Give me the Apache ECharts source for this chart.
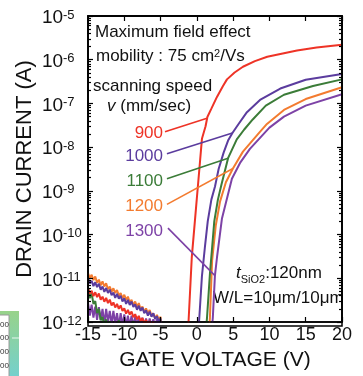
<!DOCTYPE html>
<html><head><meta charset="utf-8">
<script src="https://cdn.jsdelivr.net/npm/echarts@6/dist/echarts.min.js"></script>
<style>html,body{margin:0;padding:0;background:#fff}#c{width:363px;height:376px}</style>
</head><body><div id="c"></div>
<script>
// ---- data (gate voltage V, drain current A) ----
const xTickValues = [-15, -10, -5, 0, 5, 10, 15, 20];
const yDecades = [-12, -11, -10, -9, -8, -7, -6, -5];
const speeds = ['900', '1000', '1100', '1200', '1300'];

const offV = [-15,-14.75,-14.5,-14.25,-14,-13.75,-13.5,-13.25,-13,-12.75,-12.5,-12.25,-12,-11.75,-11.5,-11.25,-11,-10.75,-10.5,-10.25,-10,-9.75,-9.5,-9.25,-9,-8.75,-8.5,-8.25,-8,-7.75,-7.5,-7.25,-7,-6.75,-6.5,-6.25,-6,-5.75,-5.5,-5.25,-5];

const offI900 = [5.9e-12,4.5e-12,5.2e-12,3.9e-12,4.8e-12,3.7e-12,4.5e-12,3.25e-12,3.8e-12,2.9e-12,3.55e-12,2.7e-12,3.25e-12,2.4e-12,2.8e-12,2.15e-12,2.6e-12,2.0e-12,2.4e-12,1.78e-12,2.05e-12,1.55e-12,1.9e-12,1.48e-12,1.74e-12,1.29e-12,1.51e-12,1.15e-12,1.38e-12,1.05e-12,1.23e-12,9.3e-13,1.12e-12,8e-13,1.05e-12,7e-13,1.02e-12,5e-13,9e-13,4e-13,3e-13];
const offI1000 = [1.0e-11,7.6e-12,8.8e-12,6.6e-12,8.1e-12,6.3e-12,7.5e-12,5.5e-12,6.5e-12,4.9e-12,6.0e-12,4.6e-12,5.5e-12,4.1e-12,4.7e-12,3.55e-12,4.4e-12,3.4e-12,4.0e-12,2.95e-12,3.5e-12,2.6e-12,3.2e-12,2.45e-12,2.95e-12,2.2e-12,2.55e-12,1.9e-12,2.35e-12,1.8e-12,2.15e-12,1.58e-12,1.86e-12,1.4e-12,1.72e-12,1.32e-12,1.58e-12,1.17e-12,1.36e-12,1.02e-12,1.2e-12];
const offI1100 = [6e-12,3.5e-12,4.5e-12,2.6e-12,3e-12,1.6e-12,2e-12,1.1e-12,1.3e-12,8e-13,1.15e-12,7e-13,1.05e-12,6e-13,8e-13,6e-13,7e-13,1.1e-12,6e-13,7e-13,6e-13,6e-13,7e-13,6e-13,6e-13,1.05e-12,6e-13,6e-13,7e-13,6e-13,6e-13,6e-13,1.02e-12,6e-13,6e-13,6e-13,6e-13,6e-13,6e-13,6e-13,5e-13];
const offI1200 = [1.32e-11,1.0e-11,1.2e-11,9.1e-12,1.1e-11,7.9e-12,9.3e-12,6.9e-12,8.5e-12,6.5e-12,7.7e-12,5.6e-12,6.5e-12,4.9e-12,5.9e-12,4.6e-12,5.4e-12,4.0e-12,4.6e-12,3.5e-12,4.2e-12,3.2e-12,3.8e-12,2.8e-12,3.2e-12,2.4e-12,2.95e-12,2.25e-12,2.7e-12,1.95e-12,2.26e-12,1.7e-12,2.05e-12,1.58e-12,1.87e-12,1.38e-12,1.58e-12,1.2e-12,1.45e-12,1.12e-12,1.32e-12];
const offI1300 = [2.8e-12,1.4e-12,2.5e-12,1.26e-12,2.25e-12,1.12e-12,2.2e-12,1.1e-12,2.0e-12,9e-13,2.0e-12,1e-12,1.8e-12,9e-13,1.8e-12,9e-13,1.6e-12,8e-13,1.6e-12,8e-13,1.5e-12,8e-13,1.4e-12,8e-13,1.4e-12,8e-13,1.3e-12,8e-13,1.3e-12,8e-13,1.25e-12,8e-13,1.2e-12,8e-13,1.2e-12,8e-13,1.15e-12,8e-13,1.15e-12,8e-13,1.1e-12];

const on900 = [[-4.9,1e-13],[-1.3,4e-13],[-1.15,1e-12],[-0.7,3.0e-11],[0.0,6.8e-10],[0.35,3.2e-9],[0.7,1.55e-8],[1.2,3.0e-8],[1.45,4.9e-8],[2.0,7.6e-8],[2.77,1.41e-7],[3.6,2.5e-7],[4.15,3.55e-7],[5.2,5.1e-7],[6.35,6.9e-7],[8,9.3e-7],[9.7,1.17e-6],[12,1.41e-6],[13.8,1.62e-6],[16.5,1.9e-6],[20,2.19e-6]];
const on1000 = [[-4.9,1e-13],[0.2,3e-13],[0.3,1e-12],[0.7,1.12e-11],[1.1,5e-11],[1.5,2e-10],[2.0,6.3e-10],[2.5,1.26e-9],[3.0,3.16e-9],[3.7,7.6e-9],[4.3,1.41e-8],[4.9,2.1e-8],[5.7,3.3e-8],[6.9,6.3e-8],[8.7,1.2e-7],[11.5,2.19e-7],[15,3.47e-7],[20,4.7e-7]];
const on1100 = [[-4.9,1e-13],[1.3,8e-13],[1.4,1.26e-12],[1.8,1.26e-11],[2.1,5e-11],[2.4,2e-10],[2.9,6.3e-10],[3.4,1.41e-9],[4.3,5.6e-9],[5.5,1.5e-8],[6.5,2.5e-8],[7.7,4.3e-8],[9.5,8.9e-8],[12,1.58e-7],[16,2.5e-7],[20,3.55e-7]];
const on1200 = [[-4.8,1e-13],[1.65,5e-13],[1.8,1.26e-12],[2.1,2.5e-11],[2.6,1.58e-10],[3.2,5.75e-10],[4.0,1.58e-9],[4.97,3.24e-9],[6.35,7.9e-9],[8.69,2.24e-8],[9.66,3.4e-8],[12,7.1e-8],[15,1.26e-7],[20,2.34e-7]];
const on1300 = [[-4.8,1e-13],[2.0,5e-13],[2.2,1.26e-12],[2.49,1.15e-11],[2.77,2.95e-11],[3.46,2.34e-10],[4.83,1.9e-9],[6,4.5e-9],[7.31,9.1e-9],[10,2.8e-8],[12,5e-8],[15,8.9e-8],[20,1.62e-7]];

// leader lines from the speed labels to the curves (data coordinates)
const leader900 = [[-4.39, 2.24e-8], [1.4, 4.6e-8]];
const leader1000 = [[-4.12, 7.1e-9], [4.9, 2.1e-8]];
const leader1100 = [[-4.12, 1.9e-9], [4.3, 5.6e-9]];
const leader1200 = [[-4.12, 4.9e-10], [4.97, 3.24e-9]];
const leader1300 = [[-3.98, 1.4e-10], [2.49, 1.15e-11]];

// ---- chart ----
const FONT = 'Liberation Sans, Arial, Helvetica, sans-serif';
const colors = {'900':'#ee3326','1000':'#5b3c9e','1100':'#3b7c38','1200':'#f37b2f','1300':'#7d42a6'};
const offs = {'900':offI900,'1000':offI1000,'1100':offI1100,'1200':offI1200,'1300':offI1300};
const ons = {'900':on900,'1000':on1000,'1100':on1100,'1200':on1200,'1300':on1300};
const leaders = {'900':leader900,'1000':leader1000,'1100':leader1100,'1200':leader1200,'1300':leader1300};

function buildSeries(s) {
  const data = offV.map((v, i) => [v, offs[s][i]]).concat(ons[s]);
  const L = leaders[s];
  return {
    name: s, type: 'line', data: data, showSymbol: false, symbol: 'none',
    clip: true, smooth: false, z: 2,
    lineStyle: { color: colors[s], width: 2 },
    itemStyle: { color: colors[s] },
    markLine: {
      silent: true, symbol: ['none', 'none'], animation: false,
      label: { show: false },
      lineStyle: { color: colors[s], width: 1.6, type: 'solid' },
      emphasis: { disabled: true },
      data: [[{ coord: L[0] }, { coord: L[1] }]]
    }
  };
}

const seriesOrder = ['1300', '1200', '1100', '1000', '900'];

function lineSt() { return { color: '#000', width: 1.5, type: 'solid' }; }
function tickSt() { return { color: '#000', width: 1.2, type: 'solid' }; }

const option = {
  animation: false,
  grid: { left: 88, right: 21, top: 16, bottom: 50, containLabel: false,
          show: true, borderColor: '#000', borderWidth: 1.5, backgroundColor: 'rgba(0,0,0,0)' },
  xAxis: [{
    type: 'value', position: 'bottom', min: -15, max: 20, interval: 5, z: 10,
    name: 'GATE VOLTAGE (V)', nameLocation: 'middle', nameGap: 28, nameMoveOverlap: false,
    nameTextStyle: { fontSize: 21, fontFamily: FONT, color: '#111' },
    axisLine: { show: true, onZero: false, lineStyle: lineSt() },
    axisTick: { show: true, inside: true, length: 5, lineStyle: tickSt() },
    axisLabel: { fontSize: 18, fontFamily: FONT, color: '#111', margin: 4 },
    splitLine: { show: false }
  }, {
    type: 'value', position: 'top', min: -15, max: 20, interval: 5, z: 10,
    axisLine: { show: true, onZero: false, lineStyle: lineSt() },
    axisTick: { show: true, inside: true, length: 5, lineStyle: tickSt() },
    axisLabel: { show: false }, splitLine: { show: false }
  }],
  yAxis: [{
    type: 'log', logBase: 10, position: 'left', min: 1e-12, max: 1e-5, splitNumber: 7, z: 10,
    name: 'DRAIN CURRENT (A)', nameLocation: 'middle', nameGap: 52, nameMoveOverlap: false,
    nameTextStyle: { fontSize: 22, fontFamily: FONT, color: '#111' },
    axisLine: { show: true, onZero: false, lineStyle: lineSt() },
    axisTick: { show: true, inside: true, length: 5, lineStyle: tickSt() },
    minorTick: { show: true, splitNumber: 9, length: 3, lineStyle: tickSt() },
    axisLabel: {
      margin: 1, color: '#111', padding: [5, 0, 0, 0],
      formatter: function (v) {
        const e = Math.round(Math.log10(v));
        if (e === yDecades[0]) return '{b2|10}{s|' + e + '}';
        return '{b|10}{s|' + e + '}';
      },
      rich: {
        b: { fontSize: 19, fontFamily: FONT, color: '#111', lineHeight: 20, width: 21, align: 'left', verticalAlign: 'top' },
        b2: { fontSize: 19, fontFamily: FONT, color: '#111', lineHeight: 20, width: 21, align: 'left', verticalAlign: 'top', padding: [0, 0, 8, 0] },
        s: { fontSize: 13, fontFamily: FONT, color: '#111', lineHeight: 13, width: 24, align: 'left', verticalAlign: 'top' }
      }
    },
    splitLine: { show: false }, minorSplitLine: { show: false }
  }, {
    type: 'log', logBase: 10, position: 'right', min: 1e-12, max: 1e-5, splitNumber: 7, z: 10,
    axisLine: { show: true, onZero: false, lineStyle: lineSt() },
    axisTick: { show: true, inside: true, length: 5, lineStyle: tickSt() },
    minorTick: { show: true, splitNumber: 9, length: 3, lineStyle: tickSt() },
    axisLabel: { show: false }, splitLine: { show: false }, minorSplitLine: { show: false }
  }],
  series: seriesOrder.map(buildSeries),
  graphic: [
    // plot frame
    { type: 'rect', z: 100, silent: true, shape: { x: 88, y: 16, width: 254, height: 310 },
      style: { fill: null, stroke: '#000', lineWidth: 1.5 } },
    { type: 'text', x: 95, y: 32, style: { text: 'Maximum field effect', font: '17px ' + FONT, fill: '#111', textVerticalAlign: 'middle' } },
    { type: 'text', x: 96, y: 58, style: {
      text: '{n|mobility : 75 cm}{sup|2}{n|/Vs}', textVerticalAlign: 'middle',
      rich: { n: { font: '17px ' + FONT, fill: '#111', lineHeight: 20, verticalAlign: 'top' },
              sup: { font: '11px ' + FONT, fill: '#111', lineHeight: 11, verticalAlign: 'top' } } } },
    { type: 'text', x: 93, y: 86, style: { text: 'scanning speed', font: '17px ' + FONT, fill: '#111', textVerticalAlign: 'middle' } },
    { type: 'text', x: 107, y: 106, style: {
      text: '{i|v}{n| (mm/sec)}', textVerticalAlign: 'middle',
      rich: { i: { font: 'italic 17px ' + FONT, fill: '#111' }, n: { font: '17px ' + FONT, fill: '#111' } } } },
    { type: 'text', x: 163, y: 133, style: { text: speeds[0], font: '17px ' + FONT, fill: colors['900'], textAlign: 'right', textVerticalAlign: 'middle' } },
    { type: 'text', x: 163, y: 156, style: { text: speeds[1], font: '17px ' + FONT, fill: colors['1000'], textAlign: 'right', textVerticalAlign: 'middle' } },
    { type: 'text', x: 163, y: 181, style: { text: speeds[2], font: '17px ' + FONT, fill: colors['1100'], textAlign: 'right', textVerticalAlign: 'middle' } },
    { type: 'text', x: 163, y: 206, style: { text: speeds[3], font: '17px ' + FONT, fill: colors['1200'], textAlign: 'right', textVerticalAlign: 'middle' } },
    { type: 'text', x: 163, y: 231, style: { text: speeds[4], font: '17px ' + FONT, fill: colors['1300'], textAlign: 'right', textVerticalAlign: 'middle' } },
    { type: 'text', x: 236, y: 275, style: {
      text: '{i|t}{sub|SiO2}{n|:120nm}', textVerticalAlign: 'middle',
      rich: { i: { font: 'italic 17px ' + FONT, fill: '#111', lineHeight: 20, verticalAlign: 'top' },
              sub: { font: '11px ' + FONT, fill: '#111', lineHeight: 11, verticalAlign: 'bottom' },
              n: { font: '17px ' + FONT, fill: '#111', lineHeight: 20, verticalAlign: 'top' } } } },
    { type: 'text', x: 213, y: 298, style: { text: 'W/L=10\u03bcm/10\u03bcm', font: '17px ' + FONT, fill: '#111', textVerticalAlign: 'middle' } },
    { type: 'rect', shape: { x: 0, y: 311, width: 19, height: 65 }, style: {
      fill: { type: 'linear', x: 0, y: 0, x2: 0, y2: 1, colorStops: [{ offset: 0, color: '#98d38a' }, { offset: 1, color: '#74d0cc' }] } }, silent: true },
    { type: 'rect', shape: { x: -1, y: 315, width: 10, height: 62 }, style: { fill: '#ffffff', stroke: '#9a9a9a', lineWidth: 1 }, silent: true },
    { type: 'line', shape: { x1: 12, y1: 338, x2: 19, y2: 338 }, style: { stroke: '#e8f6ee', lineWidth: 1 }, silent: true },
    { type: 'text', x: 9, y: 325, style: { text: '00', font: '8px ' + FONT, fill: '#333', textAlign: 'right', textVerticalAlign: 'middle' } },
    { type: 'text', x: 9, y: 338, style: { text: '00', font: '8px ' + FONT, fill: '#333', textAlign: 'right', textVerticalAlign: 'middle' } },
    { type: 'text', x: 9, y: 352, style: { text: '00', font: '8px ' + FONT, fill: '#333', textAlign: 'right', textVerticalAlign: 'middle' } },
    { type: 'text', x: 9, y: 366, style: { text: '00', font: '8px ' + FONT, fill: '#333', textAlign: 'right', textVerticalAlign: 'middle' } }
  ]
};

const chart = echarts.init(document.getElementById('c'), null, { renderer: 'canvas' });
chart.setOption(option);
</script>
</body></html>
